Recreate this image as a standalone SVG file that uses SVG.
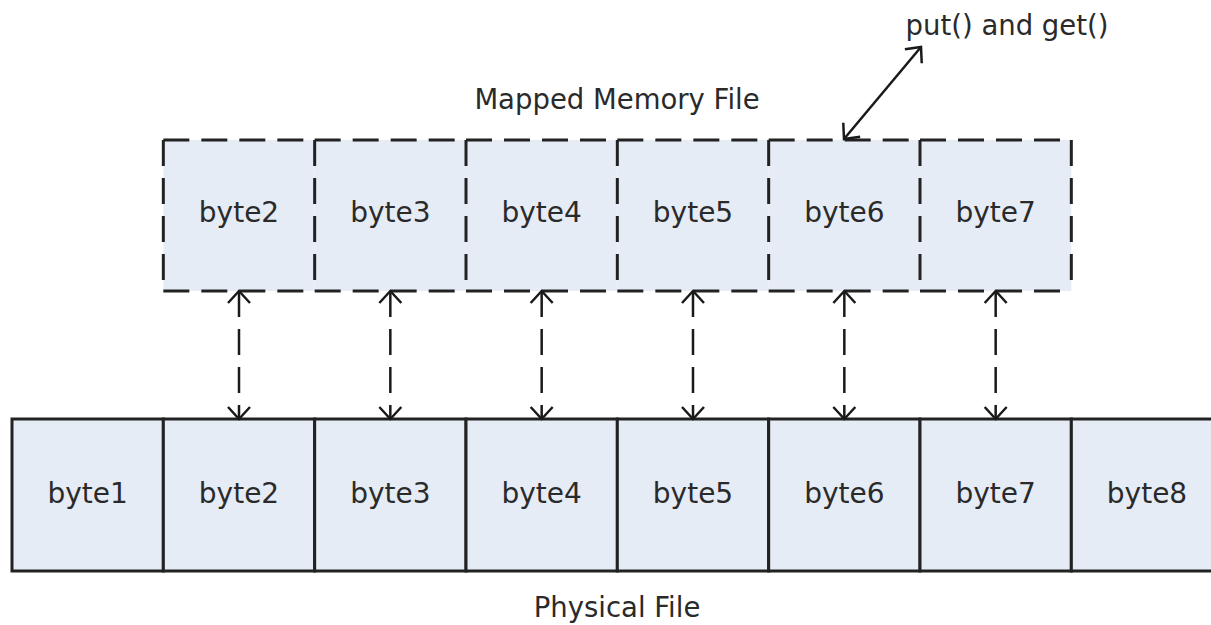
<svg xmlns="http://www.w3.org/2000/svg" width="1211" height="625" viewBox="0 0 1211 625">
  <style>
    .cellfill { fill: #e6ecf6; }
    .solid { fill: #e6ecf6; stroke: #222; stroke-width: 3; }
    .dash { fill: none; stroke: #222; stroke-width: 3; stroke-dasharray: 26 12; }
    .lbl { font-family: "DejaVu Sans", Verdana, sans-serif; font-size: 28px; fill: #2a2a2a; text-anchor: middle; }
    .cap { font-family: "DejaVu Sans", Verdana, sans-serif; font-size: 27.5px; fill: #2a2a2a; text-anchor: middle; }
    .conn { fill: none; stroke: #1a1a1a; stroke-width: 2.5; }
    .dconn { fill: none; stroke: #1a1a1a; stroke-width: 2.5; stroke-dasharray: 26 12; }
  </style>
  <defs>
    <marker id="ah" markerUnits="userSpaceOnUse" markerWidth="30" markerHeight="30" viewBox="-15 -15 30 30" refX="0" refY="0" orient="auto-start-reverse">
      <path d="M -12 -11 L 0 0 L -12 11" fill="none" stroke="#1a1a1a" stroke-width="2.5"/>
    </marker>
  </defs>
  <rect width="1211" height="625" fill="#ffffff"/>

  <!-- captions -->
  <text class="cap" x="617" y="109">Mapped Memory File</text>
  <text class="cap" x="617" y="617">Physical File</text>
  <text class="cap" x="1007" y="35">put() and get()</text>

  <!-- mapped memory cells -->
  <g id="m2"><rect class="cellfill" x="163.33" y="140" width="151.33" height="151"/><path class="dash" d="M163.33 140 H314.67 M163.33 291 H314.67 M163.33 140 V291"/><text class="lbl" x="239" y="222">byte2</text></g>
  <g id="m3"><rect class="cellfill" x="314.67" y="140" width="151.33" height="151"/><path class="dash" d="M314.67 140 H466 M314.67 291 H466 M314.67 140 V291"/><text class="lbl" x="390.33" y="222">byte3</text></g>
  <g id="m4"><rect class="cellfill" x="466" y="140" width="151.33" height="151"/><path class="dash" d="M466 140 H617.33 M466 291 H617.33 M466 140 V291"/><text class="lbl" x="541.67" y="222">byte4</text></g>
  <g id="m5"><rect class="cellfill" x="617.33" y="140" width="151.33" height="151"/><path class="dash" d="M617.33 140 H768.67 M617.33 291 H768.67 M617.33 140 V291"/><text class="lbl" x="693" y="222">byte5</text></g>
  <g id="m6"><rect class="cellfill" x="768.67" y="140" width="151.33" height="151"/><path class="dash" d="M768.67 140 H920 M768.67 291 H920 M768.67 140 V291"/><text class="lbl" x="844.33" y="222">byte6</text></g>
  <g id="m7"><rect class="cellfill" x="920" y="140" width="151.33" height="151"/><path class="dash" d="M920 140 H1071.33 M920 291 H1071.33 M920 140 V291 M1071.33 140 V291"/><text class="lbl" x="995.67" y="222">byte7</text></g>

  <!-- physical file cells -->
  <g id="p1"><rect class="solid" x="12" y="419" width="151.33" height="152"/><text class="lbl" x="87.67" y="503">byte1</text></g>
  <g id="p2"><rect class="solid" x="163.33" y="419" width="151.33" height="152"/><text class="lbl" x="239" y="503">byte2</text></g>
  <g id="p3"><rect class="solid" x="314.67" y="419" width="151.33" height="152"/><text class="lbl" x="390.33" y="503">byte3</text></g>
  <g id="p4"><rect class="solid" x="466" y="419" width="151.33" height="152"/><text class="lbl" x="541.67" y="503">byte4</text></g>
  <g id="p5"><rect class="solid" x="617.33" y="419" width="151.33" height="152"/><text class="lbl" x="693" y="503">byte5</text></g>
  <g id="p6"><rect class="solid" x="768.67" y="419" width="151.33" height="152"/><text class="lbl" x="844.33" y="503">byte6</text></g>
  <g id="p7"><rect class="solid" x="920" y="419" width="151.33" height="152"/><text class="lbl" x="995.67" y="503">byte7</text></g>
  <g id="p8"><rect class="solid" x="1071.33" y="419" width="151.33" height="152"/><text class="lbl" x="1147" y="503">byte8</text></g>

  <!-- connectors -->
  <g id="connectors">
    <path class="dconn" d="M239 291 V419" marker-start="url(#ah)" marker-end="url(#ah)"/>
    <path class="dconn" d="M390.33 291 V419" marker-start="url(#ah)" marker-end="url(#ah)"/>
    <path class="dconn" d="M541.67 291 V419" marker-start="url(#ah)" marker-end="url(#ah)"/>
    <path class="dconn" d="M693 291 V419" marker-start="url(#ah)" marker-end="url(#ah)"/>
    <path class="dconn" d="M844.33 291 V419" marker-start="url(#ah)" marker-end="url(#ah)"/>
    <path class="dconn" d="M995.67 291 V419" marker-start="url(#ah)" marker-end="url(#ah)"/>
    <path class="conn" d="M844 139 L921 47" marker-start="url(#ah)" marker-end="url(#ah)"/>
  </g>
</svg>
